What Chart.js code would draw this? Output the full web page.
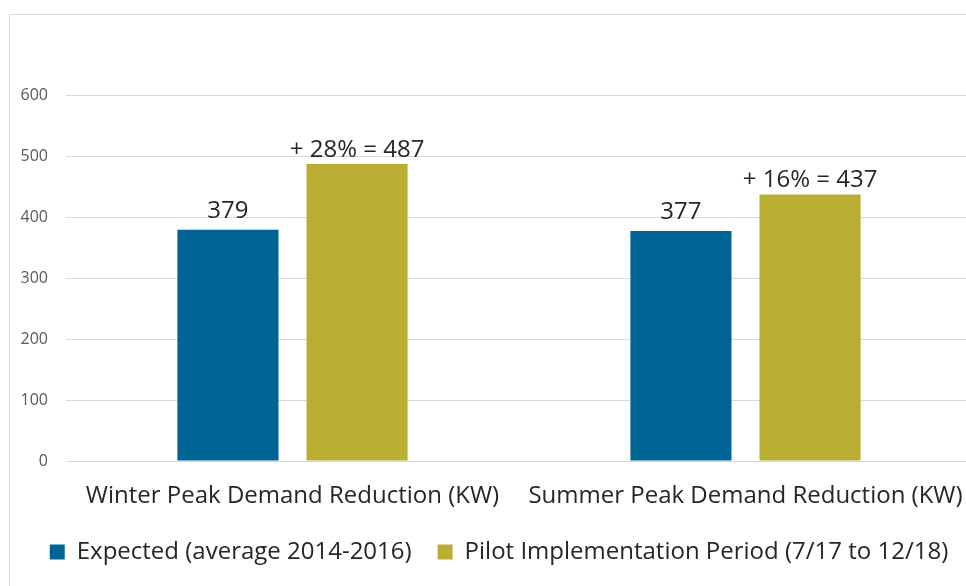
<!DOCTYPE html>
<html>
<head>
<meta charset="utf-8">
<script src="https://cdn.jsdelivr.net/npm/chart.js@4.4.1/dist/chart.umd.min.js"></script>
<style>
  html, body { margin: 0; padding: 0; background: #fff; overflow: hidden; }
  #wrap { position: absolute; left: 0; top: 0; width: 990px; height: 586px; }
</style>
</head>
<body>
<div id="wrap"><canvas id="peakChart"></canvas></div>
<script>
// chart data
const categories = ['Winter Peak Demand Reduction (KW)', 'Summer Peak Demand Reduction (KW)'];
const seriesNames = ['Expected (average 2014-2016)', 'Pilot Implementation Period (7/17 to 12/18)'];
const expectedValues = [379, 377];
const pilotValues = [487, 437];
const pilotLabels = ['+ 28% = 487', '+ 16% = 437'];
const yMax = 600;
const yStep = 100;

const FONT = '"Open Sans", sans-serif';

// light frame around the picture, like the slide it came from
const framePlugin = {
    id: 'frame',
    afterLayout(chart) {
        // nudge the legend a bit to the right
        if (chart.legend) {
            chart.legend.left += 13;
            chart.legend.right += 13;
        }
    },
    beforeDraw(chart) {
        const ctx = chart.ctx;
        ctx.save();
        ctx.fillStyle = '#fff';
        ctx.fillRect(0, 0, chart.width, chart.height);
        ctx.strokeStyle = '#d9d9d9';
        ctx.lineWidth = 1;
        ctx.beginPath();
        ctx.moveTo(9.5, chart.height);
        ctx.lineTo(9.5, 14.5);
        ctx.lineTo(chart.width, 14.5);
        ctx.stroke();
        ctx.restore();
    }
};

// value labels above each bar
const barLabelPlugin = {
    id: 'barLabels',
    afterDatasetsDraw(chart) {
        const ctx = chart.ctx;
        ctx.save();
        ctx.font = '24px ' + FONT;
        ctx.fillStyle = '#262626';
        ctx.textAlign = 'center';
        ctx.textBaseline = 'bottom';
        chart.data.datasets.forEach((ds, i) => {
            const meta = chart.getDatasetMeta(i);
            meta.data.forEach((bar, j) => {
                const text = i === 0 ? String(ds.data[j]) : pilotLabels[j];
                ctx.fillText(text, bar.x, bar.y - (i === 0 ? 7 : 2));
            });
        });
        ctx.restore();
    }
};

const ctx = document.getElementById('peakChart').getContext('2d');
const peakChart = new Chart(ctx, {
    type: 'bar',
    data: {
        labels: categories,
        datasets: [
            {
                label: seriesNames[0],
                data: expectedValues,
                backgroundColor: '#006595',
                categoryPercentage: 0.57,
                barPercentage: 0.783
            },
            {
                label: seriesNames[1],
                data: pilotValues,
                backgroundColor: '#b9ae31',
                categoryPercentage: 0.57,
                barPercentage: 0.783
            }
        ]
    },
    options: {
        responsive: true,
        maintainAspectRatio: false,
        animation: false,
        layout: { padding: { left: 0, right: 18, top: 95, bottom: 12 } },
        scales: {
            x: {
                grid: { display: false },
                border: { display: false },
                ticks: {
                    color: '#262626',
                    font: { family: FONT, size: 24 },
                    padding: 13
                },
                afterFit(scale) { scale.height = 53; }
            },
            y: {
                min: 0,
                max: yMax,
                ticks: {
                    stepSize: yStep,
                    color: '#595959',
                    font: { family: FONT, size: 16 },
                    padding: 18
                },
                grid: { color: '#d9d9d9', lineWidth: 1, drawTicks: false },
                border: { display: false },
                afterFit(scale) { scale.width = 66; }
            }
        },
        plugins: {
            legend: {
                position: 'bottom',
                labels: {
                    color: '#262626',
                    font: { family: FONT, size: 24 },
                    boxWidth: 15,
                    boxHeight: 15,
                    padding: 26
                }
            },
            tooltip: { enabled: false }
        }
    },
    plugins: [framePlugin, barLabelPlugin]
});
</script>
</body>
</html>
